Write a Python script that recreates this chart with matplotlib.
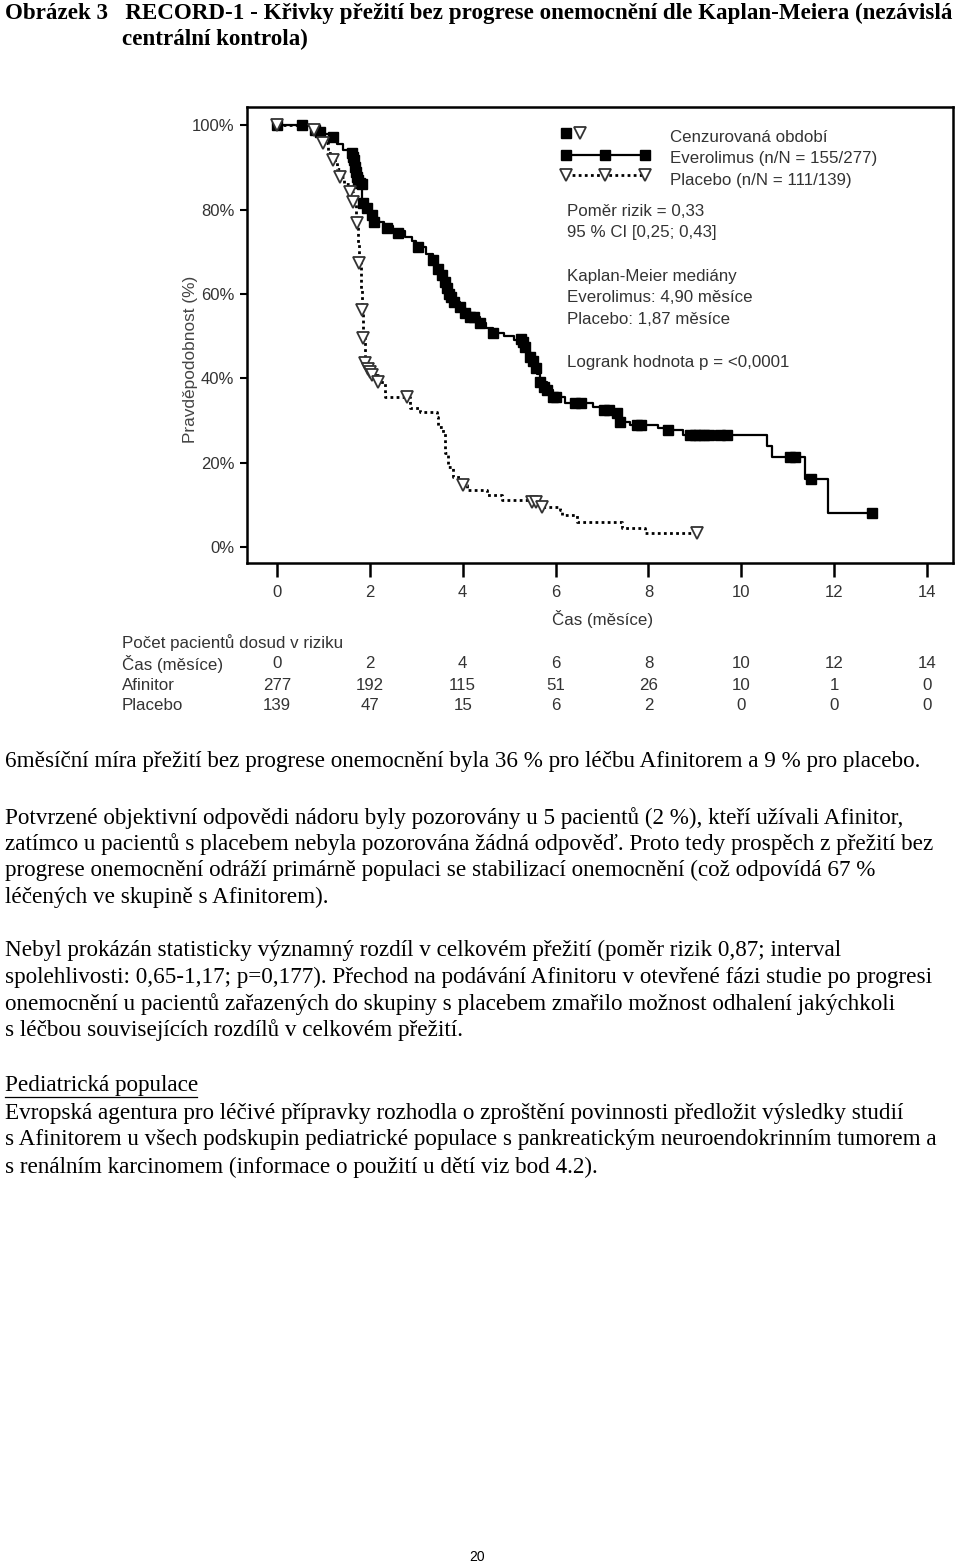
import matplotlib
matplotlib.use("Agg")
import matplotlib.pyplot as plt
from matplotlib.lines import Line2D

W, H = 960, 1565
SANS = ["Liberation Sans", "DejaVu Sans"]
SERIF = ["Liberation Serif", "DejaVu Serif"]

# --- data -----------------------------------------------------------------
# Everolimus: step function (time in months, PFS %)
evero_t = [0, 0.75, 0.85, 1.0, 1.18, 1.3, 1.42, 1.55, 1.6, 1.65, 1.68, 1.72, 1.8,
           1.83, 1.9, 1.96, 2.05, 2.15, 2.3, 2.5, 2.75, 2.9, 3.0, 3.2, 3.36, 3.45,
           3.55, 3.62, 3.7, 3.75, 3.85, 3.94, 4.05, 4.2, 4.37, 4.5, 4.65, 4.9, 5.1,
           5.28, 5.4, 5.5, 5.55, 5.6, 5.66, 5.82, 5.94, 6.2, 6.8, 7.1, 7.32, 7.39,
           7.6, 8.2, 8.42, 8.74, 10.55, 10.66, 11.37, 11.87, 12.81]
evero_s = [100, 99.0, 98.5, 97.8, 97.0, 95.5, 94.0, 93.0, 91.5, 90.0, 88.5, 87.0, 86.0,
           81.5, 80.5, 79.5, 78.0, 77.0, 76.0, 75.0, 73.5, 72.5, 71.0, 69.5, 68.0, 66.0,
           64.5, 62.5, 60.5, 59.0, 58.0, 57.0, 55.5, 54.5, 53.0, 52.0, 50.7, 50.0, 49.0,
           47.5, 46.0, 44.3, 42.5, 41.0, 39.0, 37.2, 35.5, 34.1, 33.3, 32.5, 31.8, 29.6,
           28.9, 28.3, 27.7, 26.5, 24.0, 21.3, 16.1, 8.0, 8.0]
# Everolimus censored observations
evero_cens_t = [0, 0.54, 0.82, 0.93, 1.21, 1.62, 1.64, 1.66, 1.68, 1.7, 1.72, 1.75, 1.78,
                1.83, 1.86, 1.93, 2.04, 2.1, 2.37, 2.6, 3.04, 3.36, 3.47, 3.55, 3.62, 3.66,
                3.71, 3.75, 3.82, 3.94, 4.05, 4.15, 4.25, 4.37, 4.65, 5.25, 5.3, 5.35,
                5.45, 5.52, 5.57, 5.66, 5.75, 5.82, 5.94, 6.02, 6.42, 6.55, 7.05, 7.15,
                7.32, 7.39, 7.75, 7.85, 8.42, 8.9, 9.0, 9.1, 9.2, 9.3, 9.55, 9.7, 11.05,
                11.15, 11.5, 12.81]
evero_cens_s = [100, 100, 98.8, 98.3, 97.2, 93.4, 92.5, 91.7, 90.0, 88.9, 87.7, 87.0, 86.3,
                86.0, 81.5, 80.3, 78.7, 77.0, 75.6, 74.4, 71.1, 68.0, 66.0, 64.5, 62.8, 61.5,
                60.0, 59.2, 58.0, 57.0, 55.5, 54.5, 54.5, 53.0, 50.7, 49.3, 48.5, 47.5,
                45.0, 44.0, 42.5, 39.0, 38.0, 37.2, 35.5, 35.5, 34.1, 34.1, 32.5, 32.5,
                31.8, 29.6, 28.9, 28.9, 27.7, 26.5, 26.5, 26.5, 26.5, 26.5, 26.5, 26.5,
                21.3, 21.3, 16.1, 8.0]

# Placebo: step function
plac_t = [0, 0.75, 0.9, 1.0, 1.1, 1.2, 1.3, 1.36, 1.45, 1.57, 1.64, 1.7, 1.72, 1.75,
          1.77, 1.8, 1.83, 1.86, 1.9, 1.96, 2.04, 2.18, 2.33, 2.86, 3.08, 3.45, 3.47,
          3.58, 3.62, 3.68, 3.79, 3.95, 4.09, 4.52, 4.85, 5.5, 5.7, 6.1, 6.14, 6.46,
          7.43, 7.93, 9.05]
plac_s = [100, 98.8, 97.0, 95.7, 93.5, 91.7, 89.5, 87.7, 86.0, 84.1, 81.8, 79.0, 76.8,
          72.0, 67.3, 61.0, 56.2, 49.5, 43.6, 42.0, 40.8, 39.1, 35.5, 33.0, 32.0, 30.8,
          28.4, 27.0, 22.3, 19.0, 16.6, 14.7, 13.5, 12.3, 11.1, 10.7, 9.5, 8.8, 7.6, 5.9,
          4.5, 3.3, 3.3]
plac_cens_t = [0, 0.8, 0.99, 1.2, 1.36, 1.57, 1.64, 1.72, 1.77, 1.83, 1.86, 1.9, 1.96,
               2.0, 2.04, 2.18, 2.8, 4.0, 5.5, 5.58, 5.7, 9.05]
plac_cens_s = [100, 98.8, 95.7, 91.7, 87.7, 84.1, 81.8, 76.8, 67.3, 56.2, 49.5, 43.6, 42.2,
               41.5, 40.8, 39.1, 35.5, 14.7, 10.7, 10.7, 9.5, 3.3]

# number at risk
risk_times = [0, 2, 4, 6, 8, 10, 12, 14]
risk_afinitor = [277, 192, 115, 51, 26, 10, 1, 0]
risk_placebo = [139, 47, 15, 6, 2, 0, 0, 0]
yticks = [0, 20, 40, 60, 80, 100]

title_lines = [
    "Obrázek 3   RECORD-1 - Křivky přežití bez progrese onemocnění dle Kaplan-Meiera (nezávislá",
    "centrální kontrola)",
]
body_lines = [
    (761, "6měsíční míra přežití bez progrese onemocnění byla 36 % pro léčbu Afinitorem a 9 % pro placebo."),
    (818, "Potvrzené objektivní odpovědi nádoru byly pozorovány u 5 pacientů (2 %), kteří užívali Afinitor,"),
    (844, "zatímco u pacientů s placebem nebyla pozorována žádná odpověď. Proto tedy prospěch z přežití bez"),
    (870, "progrese onemocnění odráží primárně populaci se stabilizací onemocnění (což odpovídá 67 %"),
    (897, "léčených ve skupině s Afinitorem)."),
    (950, "Nebyl prokázán statisticky významný rozdíl v celkovém přežití (poměr rizik 0,87; interval"),
    (977, "spolehlivosti: 0,65-1,17; p=0,177). Přechod na podávání Afinitoru v otevřené fázi studie po progresi"),
    (1004, "onemocnění u pacientů zařazených do skupiny s placebem zmařilo možnost odhalení jakýchkoli"),
    (1030, "s léčbou souvisejících rozdílů v celkovém přežití."),
    (1113, "Evropská agentura pro léčivé přípravky rozhodla o zproštění povinnosti předložit výsledky studií"),
    (1140, "s Afinitorem u všech podskupin pediatrické populace s pankreatickým neuroendokrinním tumorem a"),
    (1167, "s renálním karcinomem (informace o použití u dětí viz bod 4.2)."),
]


def fx(px):
    return px / W


def fy(py):
    return 1 - py / H


fig = plt.figure(figsize=(W / 100, H / 100), dpi=100)
fig.patch.set_facecolor("white")

# --- KM plot ---------------------------------------------------------------
ax = fig.add_axes([fx(247), fy(563), (953 - 247) / W, (563 - 107) / H])
ax.step(evero_t, evero_s, where="post", color="black", lw=1.6)
ax.plot(evero_cens_t, evero_cens_s, ls="none", marker="s", ms=7.5, color="black")
ax.step(plac_t, plac_s, where="post", color="black", lw=2.0, ls=(0, (1, 1.2)))
ax.plot(plac_cens_t, plac_cens_s, ls="none", marker="v", ms=9, mfc="white",
        mec="#333333", mew=1.3)

ax.set_xlim(-0.646, 14.56)
ax.set_ylim(-3.8, 104.3)
ax.set_xticks(risk_times)
ax.set_yticks(yticks)
ax.set_yticklabels([f"{v}%" for v in yticks])
for s in ax.spines.values():
    s.set_linewidth(1.8)
ax.tick_params(axis="x", length=10, width=1.8, pad=6, labelsize=12, labelcolor="#333333")
ax.tick_params(axis="y", length=5, width=1.5, pad=4, labelsize=12, labelcolor="#333333")
for lab in ax.get_xticklabels() + ax.get_yticklabels():
    lab.set_family(SANS)

fig.text(fx(190), fy(359), "Pravděpodobnost (%)", rotation=90, ha="center", va="center",
         fontsize=12.4, family=SANS, color="#444444")
fig.text(fx(603), fy(619), "Čas (měsíce)", ha="center", va="center", fontsize=12.2,
         family=SANS, color="#333333")

# legend inside plot (drawn by hand)
fig.add_artist(Line2D([fx(566)], [fy(133)], marker="s", ms=7.5, color="black", ls="none"))
fig.add_artist(Line2D([fx(580)], [fy(133)], marker="v", ms=9, mfc="white", mec="#333333",
                      mew=1.3, ls="none"))
fig.add_artist(Line2D([fx(566), fx(605), fx(645)], [fy(155)] * 3, marker="s", ms=7.5,
                      color="black", lw=1.6))
fig.add_artist(Line2D([fx(566), fx(605), fx(645)], [fy(175)] * 3, marker="v", ms=9,
                      color="black", mfc="white", mec="#333333", mew=1.3, lw=2.0,
                      ls=(0, (1, 1.2))))

legend_text = [
    (670, 138, "Cenzurovaná období"),
    (670, 158, "Everolimus (n/N = 155/277)"),
    (670, 180, "Placebo (n/N = 111/139)"),
    (567, 212, "Poměr rizik = 0,33"),
    (567, 233, "95 % CI [0,25; 0,43]"),
    (567, 276, "Kaplan-Meier mediány"),
    (567, 297, "Everolimus: 4,90 měsíce"),
    (567, 319, "Placebo: 1,87 měsíce"),
    (567, 362, "Logrank hodnota p = <0,0001"),
]
for x, y, t in legend_text:
    fig.text(fx(x), fy(y), t, ha="left", va="center", fontsize=12.2, family=SANS,
             color="#333333")

# number at risk table
fig.text(fx(122), fy(643), "Počet pacientů dosud v riziku", ha="left", va="center",
         fontsize=12.2, family=SANS, color="#333333")
rows = [(664, "Čas (měsíce)", risk_times), (685, "Afinitor", risk_afinitor),
        (705, "Placebo", risk_placebo)]
for y, name, vals in rows:
    fig.text(fx(122), fy(y), name, ha="left", va="center", fontsize=12.2, family=SANS,
             color="#333333")
    for t, v in zip(risk_times, vals):
        xpix = 277 + 46.43 * t
        fig.text(fx(xpix), fy(y), str(v), ha="center", va="center", fontsize=12.2,
                 family=SANS, color="#333333")

# --- title and body text ----------------------------------------------------
fig.text(fx(5), fy(13), title_lines[0], ha="left", va="center", fontsize=16.6,
         family=SERIF, weight="bold")
fig.text(fx(122), fy(39), title_lines[1], ha="left", va="center", fontsize=16.6,
         family=SERIF, weight="bold")

for y, t in body_lines:
    fig.text(fx(5), fy(y), t, ha="left", va="center", fontsize=16.65, family=SERIF)

fig.text(fx(5), fy(1086), "Pediatrická populace", ha="left", va="center", fontsize=16.65,
         family=SERIF)
fig.add_artist(Line2D([fx(5), fx(197)], [fy(1097), fy(1097)], color="black", lw=0.9))

fig.text(fx(477), fy(1557), "20", ha="center", va="center", fontsize=10, family=SANS)

fig.savefig("out.png", dpi=100)
